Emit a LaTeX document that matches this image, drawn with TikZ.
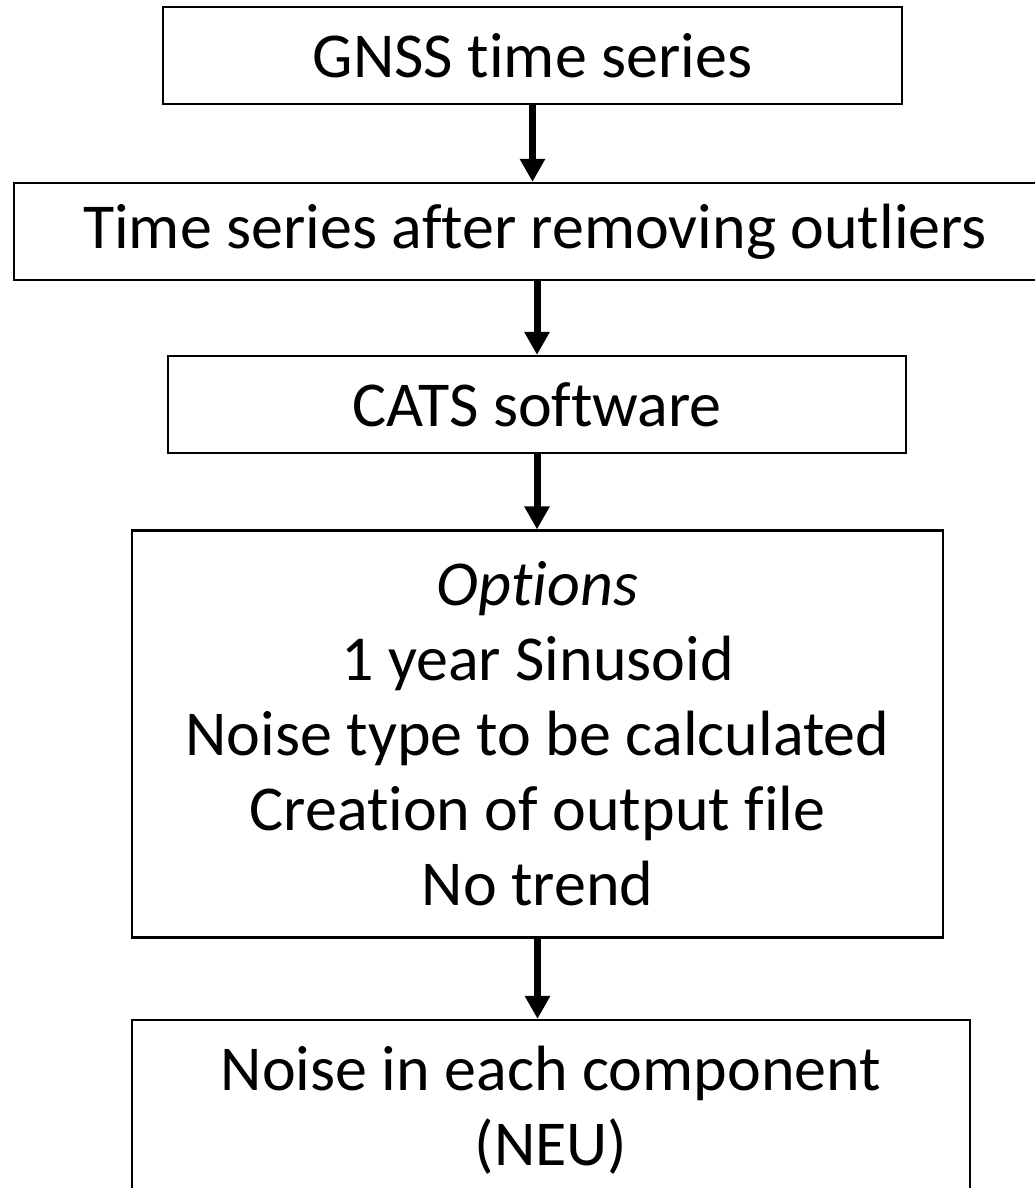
\documentclass[tikz,border=0pt]{standalone}
\usepackage{fontspec}
\setmainfont[Ligatures=NoCommon]{Carlito}
\usetikzlibrary{arrows.meta}

\tikzset{
  stagebox/.style={draw=black, line width=2.2pt, inner sep=0pt, align=center,
    font=\fontsize{64}{75}\selectfont},
  flowarrow/.style={line width=7pt, -{Triangle[width=24pt,length=23pt]}}
}

\begin{document}
\begin{tikzpicture}[x=1pt,y=-1pt]

\useasboundingbox (0,0) rectangle (1035,1188);

\node(gnss)[stagebox, minimum width=739pt, minimum height=97pt] at (532.5,55.5) {GNSS time series};
\node(clean)[stagebox, minimum width=1042pt, minimum height=97pt] at (535,231.5) {Time series after removing outliers};
\node(cats)[stagebox, minimum width=738pt, minimum height=97pt] at (537,404.5) {CATS software};

\node(opts)[stagebox, minimum width=811pt, minimum height=407pt] at (537.5,734)
  {\textit{Options}\\1 year Sinusoid\\Noise type to be calculated\\Creation of output file\\No trend};

\node(noise)[stagebox, minimum width=838pt, minimum height=180pt] at (551,1110)
  {Noise in each component\\(NEU)};

\draw[flowarrow] (gnss.south) -- (gnss.south |- clean.north);
\draw[flowarrow] (cats.north |- clean.south) -- (cats.north);
\draw[flowarrow] (cats.south) -- (cats.south |- opts.north);
\draw[flowarrow] (opts.south) -- (opts.south |- noise.north);

\end{tikzpicture}
\end{document}
